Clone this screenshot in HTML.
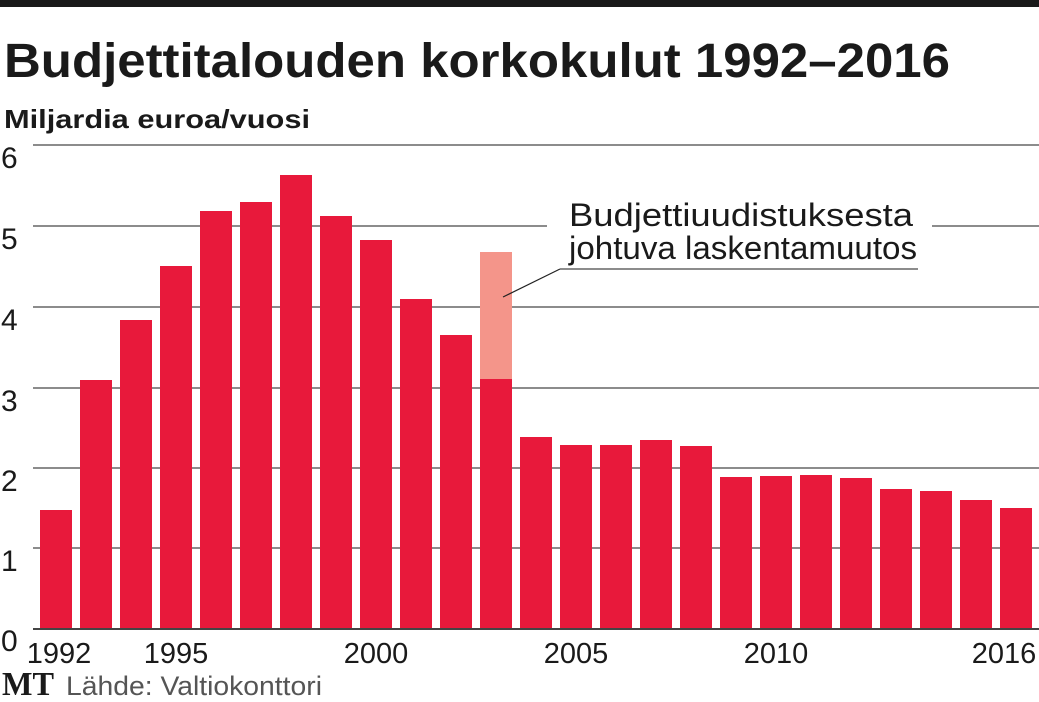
<!DOCTYPE html>
<html><head><meta charset="utf-8"><style>
html,body{margin:0;padding:0;background:#fff;}
svg{display:block;}
text{font-family:"Liberation Sans",sans-serif;fill:#1a1a1a;}
</style></head><body>
<svg width="1039" height="702" viewBox="0 0 1039 702" xmlns="http://www.w3.org/2000/svg">
<rect x="0" y="0" width="1039" height="7" fill="#1a1a1a"/>
<text x="4" y="77" font-size="48" font-weight="bold" textLength="946" lengthAdjust="spacingAndGlyphs">Budjettitalouden korkokulut 1992–2016</text>
<text x="4" y="128" font-size="26" font-weight="bold" textLength="306" lengthAdjust="spacingAndGlyphs">Miljardia euroa/vuosi</text>
<g stroke="#666" stroke-width="1.5">
<line x1="33" y1="145" x2="1039" y2="145"/>
<line x1="33" y1="226" x2="547" y2="226"/>
<line x1="932" y1="226" x2="1039" y2="226"/>
<line x1="33" y1="307" x2="1039" y2="307"/>
<line x1="33" y1="388" x2="1039" y2="388"/>
<line x1="33" y1="468" x2="1039" y2="468"/>
<line x1="33" y1="548" x2="1039" y2="548"/>
</g>
<g font-size="30">
<text x="1" y="168">6</text><text x="1" y="249">5</text><text x="1" y="330">4</text>
<text x="1" y="411">3</text><text x="1" y="491">2</text><text x="1" y="571">1</text><text x="1" y="651">0</text>
</g>
<g fill="#e8193b">
<rect x="40" y="510" width="32" height="119"/>
<rect x="80" y="380" width="32" height="249"/>
<rect x="120" y="320" width="32" height="309"/>
<rect x="160" y="266" width="32" height="363"/>
<rect x="200" y="211" width="32" height="418"/>
<rect x="240" y="202" width="32" height="427"/>
<rect x="280" y="175" width="32" height="454"/>
<rect x="320" y="216" width="32" height="413"/>
<rect x="360" y="240" width="32" height="389"/>
<rect x="400" y="299" width="32" height="330"/>
<rect x="440" y="335" width="32" height="294"/>
<rect x="480" y="379" width="32" height="250"/>
<rect x="520" y="437" width="32" height="192"/>
<rect x="560" y="445" width="32" height="184"/>
<rect x="600" y="445" width="32" height="184"/>
<rect x="640" y="440" width="32" height="189"/>
<rect x="680" y="446" width="32" height="183"/>
<rect x="720" y="477" width="32" height="152"/>
<rect x="760" y="476" width="32" height="153"/>
<rect x="800" y="475" width="32" height="154"/>
<rect x="840" y="478" width="32" height="151"/>
<rect x="880" y="489" width="32" height="140"/>
<rect x="920" y="491" width="32" height="138"/>
<rect x="960" y="500" width="32" height="129"/>
<rect x="1000" y="508" width="32" height="121"/>
</g>
<rect x="480" y="252" width="32" height="127" fill="#f4958a"/>
<line x1="33" y1="629" x2="1039" y2="629" stroke="#444" stroke-width="2"/>
<line x1="503" y1="297" x2="560" y2="269" stroke="#222" stroke-width="1.2"/>
<line x1="560" y1="269" x2="918" y2="269" stroke="#666" stroke-width="1.5"/>
<text x="569" y="226" font-size="32" textLength="344" lengthAdjust="spacingAndGlyphs">Budjettiuudistuksesta</text>
<text x="569" y="259" font-size="32" textLength="348" lengthAdjust="spacingAndGlyphs">johtuva laskentamuutos</text>
<g font-size="29" text-anchor="middle">
<text x="59" y="663">1992</text><text x="176" y="663">1995</text><text x="376" y="663">2000</text>
<text x="576" y="663">2005</text><text x="776" y="663">2010</text><text x="1004" y="663">2016</text>
</g>
<text x="2" y="695" font-size="34" font-weight="bold" style="font-family:'Liberation Serif',serif" textLength="52" lengthAdjust="spacingAndGlyphs">MT</text>
<text x="66" y="695" font-size="27" style="fill:#555" textLength="256" lengthAdjust="spacingAndGlyphs">Lähde: Valtiokonttori</text>
</svg>
</body></html>
